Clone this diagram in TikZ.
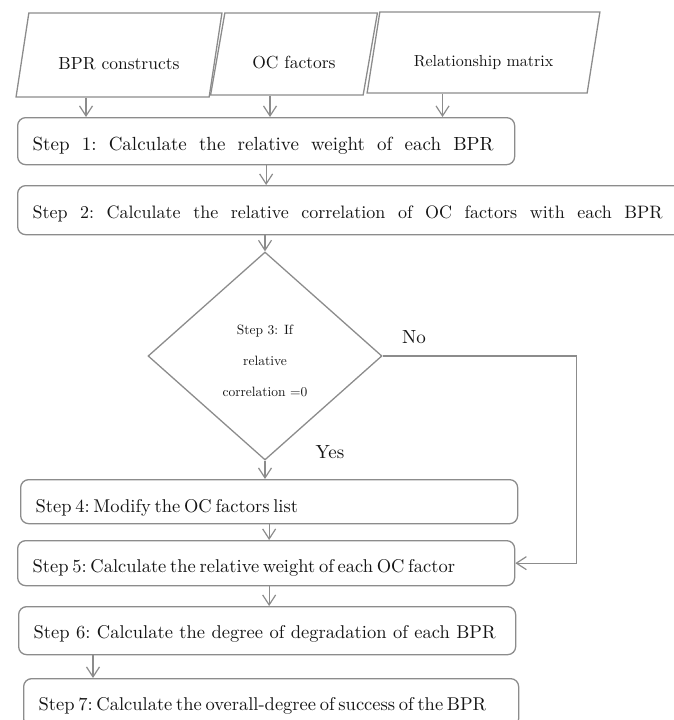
\documentclass[tikz,border=0pt]{standalone}
\usepackage{fontspec}
\setmainfont{lmroman10-regular.otf}
\usepackage{tikz}
\usetikzlibrary{positioning, arrows.meta, shapes.geometric, calc}
\definecolor{linegray}{HTML}{8C8C8C}
\definecolor{inkgray}{HTML}{141414}
% one line of text spread out to a given width
\newcommand{\spreadline}[2]{\makebox[#1][s]{\frenchspacing\spaceskip=.3em plus 1fil minus .1em\relax #2}}

\begin{document}
\begin{tikzpicture}[x=1pt, y=-1pt,
  para/.style={trapezium, trapezium left angle=75, trapezium right angle=105, trapezium stretches=true, draw=linegray, line width=1.3pt, inner sep=0pt, text height=30pt, text depth=2pt, text=inkgray, font=\fontsize{17.5}{20}\selectfont},
  stepbox/.style={draw=linegray, line width=1.3pt, rounded corners=8pt, anchor=north west, inner xsep=15pt, inner ysep=0pt, text width=467pt, align=left, text height=33pt, text=inkgray, font=\fontsize{18.5}{20}\selectfont},
  choice/.style={diamond, draw=linegray, line width=1.3pt, minimum width=234pt, minimum height=208pt, inner sep=0pt, align=center, text=inkgray, font=\fontsize{13.5}{31}\selectfont},
  flow/.style={-{Straight Barb[length=10pt, width=13pt]}, draw=linegray, line width=1.2pt},
  tag/.style={text=inkgray, font=\fontsize{19}{21}\selectfont}
]
  \useasboundingbox (0,0) rectangle (673,720);

  % inputs
  \node[para, minimum width=206pt, minimum height=84pt] (bpr) at (119,55) {BPR constructs};
  \node[para, minimum width=168pt, minimum height=82pt] (ocf) at (294,54) {OC factors};
  \node[para, minimum width=233pt, minimum height=81pt, font=\fontsize{16}{18}\selectfont] (rmat) at (483.5,52.5) {Relationship matrix};

  % steps
  \node[stepbox, text depth=14pt, font=\fontsize{19}{21}\selectfont] (s1) at (17,117) {\spreadline{461pt}{Step 1: Calculate the relative weight of each BPR}};
  \node[stepbox, text width=653pt, text depth=16pt, font=\fontsize{18}{20}\selectfont] (s2) at (17,185) {\spreadline{630pt}{Step 2: Calculate the relative correlation of OC factors with each BPR}};
  \node[choice] (s3) at (265,356) {\rule{0pt}{20pt}Step 3: If\\relative\\correlation =0};
  \node[stepbox, text depth=11pt] (s4) at (20,479) {\spreadline{256pt}{Step 4: Modify the OC factors list}};
  \node[stepbox, text height=32pt, text depth=13pt] (s5) at (17,540) {\spreadline{417pt}{Step 5: Calculate the relative weight of each OC factor}};
  \node[stepbox, text height=32pt, text depth=16pt, font=\fontsize{18.5}{21}\selectfont] (s6) at (18,606) {\spreadline{462pt}{Step 6: Calculate the degree of degradation of each BPR}};
  \node[stepbox, text height=32pt, text depth=16pt, text width=465pt] (s7) at (23,678) {\spreadline{439pt}{Step 7: Calculate the overall-degree of success of the BPR}};

  % branch labels
  \node[tag] (yes) at (330,452) {Yes};
  \node[tag] (no) at (414,337) {No};

  % arrows
  \draw[flow] ([xshift=-33pt]bpr.south) -- ([xshift=-33pt]bpr.south |- s1.north);
  \draw[flow] ([xshift=-24pt]ocf.south) -- ([xshift=-24pt]ocf.south |- s1.north);
  \draw[flow] ([xshift=-41pt]rmat.south) -- ([xshift=-41pt]rmat.south |- s1.north);
  \draw[flow] (s1.south) -- (s1.south |- s2.north);
  \draw[flow] (s3.north |- s2.south) -- (s3.north);
  \draw[flow] (s3.south) -- (s3.south |- s4.north);
  \draw[flow] (s3.east) -- ++(194,0) |- (s5.east);
  \draw[flow] (s4.south) -- (s4.south |- s5.north);
  \draw[flow] (s5.south -| s4.south) -- (s6.north -| s4.south);
  \draw[flow] ([xshift=75pt]s6.south west) -- ([xshift=75pt]s6.south west |- s7.north);
\end{tikzpicture}
\end{document}
